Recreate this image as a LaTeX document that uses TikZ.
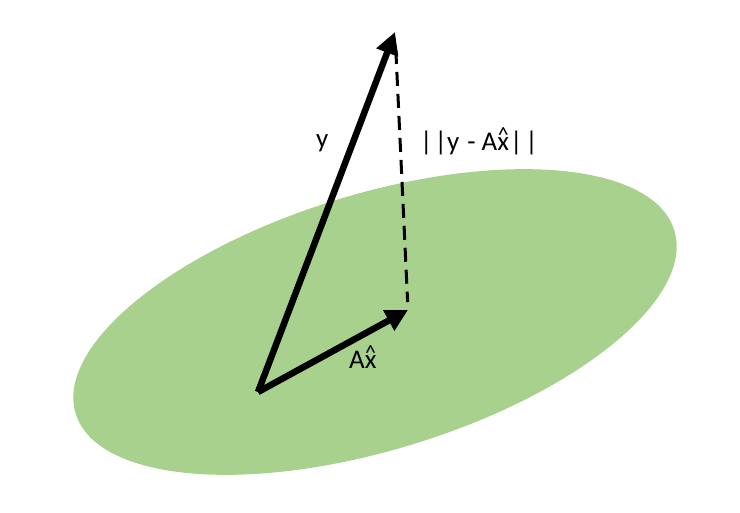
\documentclass[tikz,border=0pt]{standalone}
\usepackage{fontspec}
\setmainfont{Carlito}
\usetikzlibrary{arrows.meta,shapes.geometric}
\definecolor{plane}{RGB}{169,209,142}
\newcommand\myhatx{\ooalign{x\cr\hidewidth\raisebox{8pt}{\fontsize{22}{22}\selectfont\textasciicircum}\hidewidth\cr}}
\tikzset{
  vec/.style={line width=6.5pt, line join=miter, -{Triangle[length=22pt,width=22pt]}},
  resid/.style={line width=3pt, dash pattern=on 14pt off 8pt},
  lbl/.style={inner sep=0pt, font=\fontsize{27}{31}\selectfont}
}
\begin{document}
\begin{tikzpicture}[x=1pt,y=-1pt]
\useasboundingbox (0,0) rectangle (740,513);
\node[ellipse, fill=plane, inner sep=0pt, minimum width=626pt, minimum height=256pt, rotate=17] (plane) at (375,322) {};
\coordinate (O) at (258,392);
\coordinate (Y) at (395,32);
\coordinate (P) at (408,310);
\draw[resid, shorten <=18pt, shorten >=8pt] (Y) -- (P);
\draw[vec] (O) -- (Y);
\draw[vec] (O) -- (P);
\node[lbl, anchor=base west] (ly) at (316,148) {y};
\node[lbl, anchor=base west] (lr) at (420,151) {|\kern2pt|y\kern2pt{} - A\myhatx\kern1pt|\kern3pt|};
\node[lbl, anchor=base west] (lp) at (349,369) {A\myhatx};
\end{tikzpicture}
\end{document}
